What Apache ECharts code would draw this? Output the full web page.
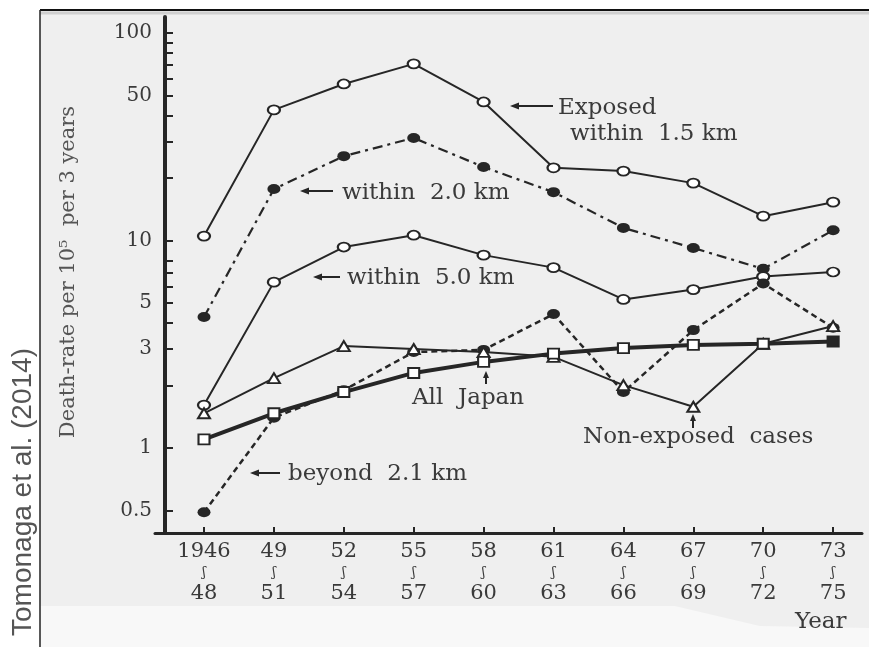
<!DOCTYPE html>
<html><head><meta charset="utf-8">
<script src="https://cdn.jsdelivr.net/npm/echarts@6/dist/echarts.min.js"></script>
<style>html,body{margin:0;padding:0;background:#fff}#c{width:869px;height:647px}</style>
</head><body><div id="c"></div>
<script>
// ---- data ----
const periodStart = ['1946', '49', '52', '55', '58', '61', '64', '67', '70', '73'];
const periodEnd   = ['48', '51', '54', '57', '60', '63', '66', '69', '72', '75'];
const within15   = [10.5, 42.6, 56.8, 71, 46.5, 22.4, 21.6, 18.9, 13.1, 15.3];
const within20   = [4.28, 17.7, 25.5, 31.2, 22.6, 17.1, 11.5, 9.2, 7.3, 11.2];
const within50   = [1.61, 6.3, 9.3, 10.6, 8.5, 7.4, 5.2, 5.8, 6.7, 7.05];
const beyond21   = [0.49, 1.40, 1.90, 2.90, 2.97, 4.42, 1.86, 3.7, 6.2, 3.8];
const allJapan   = [1.10, 1.47, 1.86, 2.30, 2.6, 2.85, 3.03, 3.14, 3.18, 3.26];
const nonExposed = [1.47, 2.17, 3.1, 3.0, 2.9, 2.75, 2.01, 1.58, 3.18, 3.87];
const yLabelValues = [0.5, 1, 3, 5, 10, 50, 100];
const yTickValues  = [0.5, 1, 2, 3, 4, 5, 6, 7, 8, 10, 20, 30, 40, 50, 60, 70, 80, 90, 100];

const ink = '#262626';
const txt = '#3a3a3a';
const serif = '"DejaVu Serif", "Liberation Serif", serif';
const idx = periodStart.map((_, i) => i);
const pts = arr => arr.map((v, i) => [i, v]);

function arrowLeft(x1, x2, y) {
  return [
    { type: 'line', z: 50, silent: true, shape: { x1: x1, y1: y, x2: x2 + 6, y2: y }, style: { stroke: ink, lineWidth: 2 } },
    { type: 'polygon', z: 50, silent: true, shape: { points: [[x2, y], [x2 + 9, y - 3.5], [x2 + 9, y + 3.5]] }, style: { fill: ink } }
  ];
}
function arrowUp(x, y1, y2) {
  return [
    { type: 'line', z: 50, silent: true, shape: { x1: x, y1: y1, x2: x, y2: y2 + 5 }, style: { stroke: ink, lineWidth: 2 } },
    { type: 'polygon', z: 50, silent: true, shape: { points: [[x, y2], [x - 3, y2 + 7], [x + 3, y2 + 7]] }, style: { fill: ink } }
  ];
}
function label(text, x, y, size) {
  return { type: 'text', z: 50, silent: true, x: x, y: y,
    style: { text: text, fontFamily: serif, fontSize: size || 23, fill: txt, align: 'left', verticalAlign: 'middle' } };
}

const graphics = [
  { type: 'rect', z: -100, silent: true, shape: { x: 40, y: 10, width: 829, height: 637 }, style: { fill: '#efefef' } },
  { type: 'polygon', z: -99, silent: true, shape: { points: [[40, 606], [675, 606], [760, 626], [869, 628], [869, 647], [40, 647]] }, style: { fill: '#f8f8f8' } },
  { type: 'line', z: -98, silent: true, shape: { x1: 40, y1: 13, x2: 869, y2: 13 }, style: { stroke: '#cfcfcf', lineWidth: 3 } },
  { type: 'line', z: -97, silent: true, shape: { x1: 40, y1: 10, x2: 869, y2: 10 }, style: { stroke: '#111', lineWidth: 2 } },
  { type: 'line', z: -97, silent: true, shape: { x1: 40, y1: 10, x2: 40, y2: 647 }, style: { stroke: '#222', lineWidth: 1.5 } },
  { type: 'text', z: 50, silent: true, x: 23, y: 492, rotation: Math.PI / 2,
    style: { text: 'Tomonaga et al. (2014)', fontFamily: '"Liberation Sans", Arial, sans-serif', fontSize: 28, fill: '#555', align: 'center', verticalAlign: 'middle' } },
  { type: 'text', z: 50, silent: true, x: 69, y: 272, rotation: Math.PI / 2,
    style: { text: 'Death-rate per 10⁵  per 3 years', fontFamily: serif, fontSize: 21, fill: '#555', align: 'center', verticalAlign: 'middle' } },
  label('Exposed', 558, 108),
  label('within  1.5 km', 570, 134),
  ...arrowLeft(553, 510, 106),
  label('within  2.0 km', 342, 193),
  ...arrowLeft(333, 300, 191),
  label('within  5.0 km', 347, 278),
  ...arrowLeft(340, 313, 277),
  label('beyond  2.1 km', 288, 474),
  ...arrowLeft(280, 250, 473),
  label('All  Japan', 412, 398),
  ...arrowUp(486, 384, 371),
  label('Non-exposed  cases', 583, 437),
  ...arrowUp(693, 428, 414),
  label('Year', 795, 622)
];

const chart = echarts.init(document.getElementById('c'), null, { renderer: 'canvas' });
const common = { type: 'line', emphasis: { disabled: true }, silent: true, animation: false };
chart.setOption({
  backgroundColor: '#ffffff',
  animation: false,
  grid: { left: 155, right: 7, top: 17, bottom: 114 },
  xAxis: {
    type: 'value', min: -0.701, max: 9.413,
    axisLine: { show: true, onZero: false, lineStyle: { color: ink, width: 3 } },
    axisTick: { show: true, inside: true, length: 6, lineStyle: { color: ink, width: 2 }, customValues: idx },
    axisLabel: {
      customValues: idx, margin: 8, color: txt,
      formatter: v => { const i = Math.round(v); return '{a|' + periodStart[i] + '}\n{b|ʃ}\n{a|' + periodEnd[i] + '}'; },
      rich: {
        a: { fontFamily: serif, fontSize: 21, lineHeight: 22, color: txt },
        b: { fontFamily: serif, fontSize: 13, lineHeight: 20, color: txt }
      }
    },
    splitLine: { show: false }
  },
  yAxis: {
    type: 'log', logBase: 10, min: 0.3894, max: 119.4, offset: -10,
    axisLine: { show: true, onZero: false, lineStyle: { color: ink, width: 4 } },
    axisTick: { show: true, inside: true, length: 8, lineStyle: { color: ink, width: 2 }, customValues: yTickValues },
    axisLabel: {
      customValues: yLabelValues, margin: 13, color: txt, fontFamily: serif, fontSize: 20,
      formatter: v => String(Math.round(v * 10) / 10)
    },
    splitLine: { show: false },
    minorTick: { show: false }
  },
  graphic: graphics,
  series: [
    Object.assign({}, common, { name: 'Exposed within 1.5 km', data: pts(within15), symbol: 'emptyCircle', symbolSize: [12, 9],
      lineStyle: { color: ink, width: 2 }, itemStyle: { color: ink, borderColor: ink, borderWidth: 2 } }),
    Object.assign({}, common, { name: 'within 2.0 km', data: pts(within20), symbol: 'circle', symbolSize: [13, 10],
      lineStyle: { color: ink, width: 2.2, type: [10, 5, 3, 5] }, itemStyle: { color: ink } }),
    Object.assign({}, common, { name: 'within 5.0 km', data: pts(within50), symbol: 'emptyCircle', symbolSize: [12, 9],
      lineStyle: { color: ink, width: 2 }, itemStyle: { color: ink, borderColor: ink, borderWidth: 2 } }),
    Object.assign({}, common, { name: 'beyond 2.1 km', data: pts(beyond21), symbol: 'circle', symbolSize: [13, 10],
      lineStyle: { color: ink, width: 2.5, type: [6, 4] }, itemStyle: { color: ink } }),
    Object.assign({}, common, { name: 'Non-exposed cases', data: pts(nonExposed), symbol: 'emptyTriangle', symbolSize: [12, 10],
      lineStyle: { color: ink, width: 2 }, itemStyle: { color: ink, borderColor: ink, borderWidth: 2 } }),
    Object.assign({}, common, { name: 'All Japan', data: pts(allJapan).map((p, i) => i === allJapan.length - 1 ? { value: p, symbol: 'rect', itemStyle: { color: ink } } : p),
      symbol: 'emptyRect', symbolSize: [11, 10],
      lineStyle: { color: ink, width: 4 }, itemStyle: { color: ink, borderColor: ink, borderWidth: 2 } })
  ]
});
</script></body></html>
